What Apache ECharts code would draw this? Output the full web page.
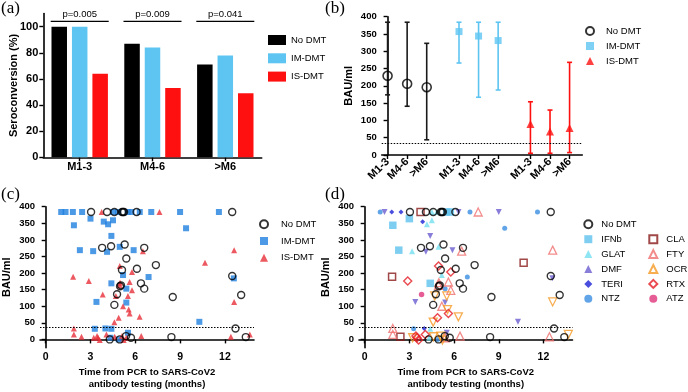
<!DOCTYPE html>
<html>
<head>
<meta charset="utf-8">
<script src="https://cdn.jsdelivr.net/npm/echarts@6/dist/echarts.min.js"></script>
<style>
html, body { margin: 0; padding: 0; background: #fff; }
#chart { width: 688px; height: 392px; }
</style>
</head>
<body>
<div id="chart"></div>
<script>
// (a) seroconversion per time window
var windows = ['M1-3', 'M4-6', '>M6'];
var seroNo = [100, 87, 71];
var seroIM = [100, 84, 78];
var seroIS = [64, 53, 49];
var pValues = ['p=0.005', 'p=0.009', 'p=0.041'];
var seroTicks = [0, 20, 40, 60, 80, 100];

// (b) median BAU/ml with range
var noMed = [229, 206, 196];
var noLo = [174, 141, 44];
var noHi = [384, 384, 323];
var imMed = [357, 344, 331];
var imLo = [266, 167, 188];
var imHi = [384, 384, 384];
var isMed = [90, 68, 78];
var isLo = [5, 5, 7];
var isHi = [154, 130, 268];
var bauTicks = [0, 50, 100, 150, 200, 250, 300, 350, 400];
var threshold = 35.2;

// (c) BAU/ml against months since PCR
var monthTicks = [0, 3, 6, 9, 12];
var noDmt = [
    [3.04,384],[4.11,384],[4.6,384],[5.11,384],[5.18,384],[5.25,384],[6.09,384],[12.49,384],
    [3.78,276],[4.38,281],[5.29,286],[6.6,276],[5.4,244],[7.38,224],[5.11,209],[6.11,213],
    [5.04,163],[4.98,160],[6.38,169],[6.6,153],[4.78,136],[4.6,104],[8.51,128],[12.49,191],
    [13.09,134],[12.71,33],[4.29,0],[4.96,0],[5.38,10],[5.71,5],[8.42,7],[13.4,7]
];
var imDmt = [
    [1.04,384],[1.33,384],[1.82,384],[2.44,384],[4.51,384],[4.85,384],[5.5,384],[5.75,384],
    [6.3,384],[7.07,384],[9.0,384],[11.6,384],
    [1.89,344],[3.0,364],[3.89,355],[4.18,347],[4.51,359],[4.4,312],
    [2.29,269],[3.18,266],[4.11,264],[4.96,279],[5.89,269],[9.4,335],
    [6.89,188],[5.18,194],[4.4,169],[5.4,153],[3.4,113],[5.4,111],
    [3.29,32],[4.0,33],[4.4,32],[10.29,53],[12.6,184],[5.51,20],[4.89,0],[4.33,5]
];
var isDmt = [
    [7.62,384],[3.75,384],[1.84,189],[2.89,176],[3.82,135],[4.96,221],[4.98,171],[4.96,163],
    [5.51,131],[4.7,131],[5.62,173],[5.78,203],[5.78,148],[5.18,100],[5.56,90],[5.62,78],[4.89,65],
    [4.6,52],[6.29,68],[6.51,266],[10.67,231],[12.62,269],[12.62,113],
    [1.89,33],[1.89,15],[2.4,8],[3.22,5],[3.44,10],[3.51,5],[3.62,-2],[4.07,15],[4.62,8],
    [5.11,10],[5.22,-2],[5.4,5],[6.4,10],[12.4,8],[13.67,15]
];

// (d) same patients split by drug
var ifnb = [[5.5,384],[5.75,384],[1.89,344],[3.0,364],[2.29,269],[4.4,169]];
var glat = [[4.51,384],[4.85,384],[4.18,347],[4.51,359],[3.18,266],[4.96,279],[5.18,194],[4.4,32],[4.33,5]];
var dmf = [[1.33,384],[6.3,384],[9.0,384],[4.4,312],[4.11,264],[5.89,269],[3.4,113],[5.4,111],[10.29,53],[12.6,184],[5.51,20]];
var teri = [[1.82,384],[2.44,384],[3.89,355],[4.0,33]];
var ntz = [[1.04,384],[7.07,384],[11.6,384],[9.4,335],[6.89,188],[5.4,153],[3.29,32],[4.89,0]];
var cla = [[3.75,384],[1.84,189],[10.67,231],[2.4,8]];
var fty = [[7.62,384],[4.98,171],[4.96,163],[5.62,173],[5.78,148],[5.18,100],[6.51,266],[12.62,269],[1.89,33],[1.89,15],[5.4,5],[6.4,10],[12.4,8]];
var ocr = [[5.51,131],[4.7,131],[5.56,90],[4.6,52],[6.29,68],[12.62,113],[3.22,5],[4.62,8],[5.11,10],[5.22,-2],[13.67,15]];
var rtx = [[2.89,176],[4.96,221],[5.78,203],[5.62,78],[4.89,65],[3.44,10],[3.51,5],[3.62,-2],[4.07,15]];
var atz = [[3.82,135]];

var FONT = 'Liberation Sans';
var groupStride = 3.65;
var bPos = [];
var bLabels = [];
for (var g = 0; g < 3; g++) {
    for (var k = 0; k < 3; k++) {
        bPos.push(g * groupStride + k);
        bLabels.push(windows[k]);
    }
}

function axisLine() {
    return { show: true, lineStyle: { color: '#000', width: 1.6 } };
}
function ticks(vals) {
    var t = { show: true, inside: false, length: 4, lineStyle: { color: '#000', width: 1.4 } };
    if (vals) t.customValues = vals;
    return t;
}
function labels(size, vals, extra) {
    var l = { show: true, color: '#000', fontFamily: FONT, fontWeight: 'bold', fontSize: size, margin: 5 };
    if (vals) l.customValues = vals;
    for (var key in extra) l[key] = extra[key];
    return l;
}
function yName(text, gap) {
    return {
        name: text, nameLocation: 'middle', nameGap: gap, nameRotate: 90, nameMoveOverlap: false,
        nameTextStyle: { color: '#000', fontFamily: FONT, fontWeight: 'bold', fontSize: 11 }
    };
}
function bauY(gridIndex, nameGap) {
    var ax = {
        type: 'value', gridIndex: gridIndex, min: -25, max: 400,
        axisLine: axisLine(), axisTick: ticks(bauTicks), axisLabel: labels(9.5, bauTicks),
        splitLine: { show: false }
    };
    var n = yName('BAU/ml', nameGap);
    for (var key in n) ax[key] = n[key];
    return ax;
}
function monthX(gridIndex) {
    return {
        type: 'value', gridIndex: gridIndex, min: -0.38, max: 13.95,
        axisLine: axisLine(), axisTick: ticks(monthTicks), axisLabel: labels(10.5, monthTicks, { margin: 4 }),
        splitLine: { show: false },
        name: 'Time from PCR to SARS-CoV2\nantibody testing (months)', nameLocation: 'middle', nameGap: 19,
        nameMoveOverlap: false,
        nameTextStyle: { color: '#000', fontFamily: FONT, fontWeight: 'bold', fontSize: 9.5, lineHeight: 11.5 }
    };
}
function dotted() {
    return {
        silent: true, symbol: ['none', 'none'], label: { show: false },
        lineStyle: { color: '#000', type: [1.5, 1.5], width: 1 },
        data: [{ yAxis: threshold }]
    };
}
function hollow(color, w) {
    return { color: 'rgba(0,0,0,0)', borderColor: color, borderWidth: w || 1.4 };
}
function scat(name, data, xi, symbol, size, style, rot) {
    return {
        name: name, type: 'scatter', xAxisIndex: xi, yAxisIndex: xi, data: data,
        symbol: symbol, symbolSize: size, symbolRotate: rot || 0, itemStyle: style,
        emphasis: { disabled: true }
    };
}
function errorBars(lo, hi, offset, color) {
    return {
        type: 'custom', xAxisIndex: 1, yAxisIndex: 1, z: 1,
        data: lo.map(function (v, i) { return [bPos[offset + i], v, hi[i]]; }),
        renderItem: function (params, api) {
            var a = api.coord([api.value(0), api.value(1)]);
            var b = api.coord([api.value(0), api.value(2)]);
            var st = { stroke: color, lineWidth: 1.6 };
            return { type: 'group', children: [
                { type: 'line', shape: { x1: a[0], y1: a[1], x2: b[0], y2: b[1] }, style: st },
                { type: 'line', shape: { x1: a[0] - 2.5, y1: a[1], x2: a[0] + 2.5, y2: a[1] }, style: st },
                { type: 'line', shape: { x1: b[0] - 2.5, y1: b[1], x2: b[0] + 2.5, y2: b[1] }, style: st }
            ] };
        }
    };
}
function legend(names, left, top, w, h, gap, pad) {
    return {
        data: names, orient: 'vertical', left: left, top: top, itemWidth: w, itemHeight: h, itemGap: gap,
        selectedMode: false, padding: 0, symbolKeepAspect: true,
        textStyle: { color: '#000', fontFamily: FONT, fontSize: 9.5, lineHeight: 10, padding: [0, 0, 0, pad || 0] }
    };
}
function withPos(vals, offset) {
    return vals.map(function (v, i) { return [bPos[offset + i], v]; });
}

var C_IM_LIGHT = '#5ec5f2';
var C_RED = '#ff1010';
var C_IM_C = '#1f80e0';
var C_IS_C = '#e8303a';

var chart = echarts.init(document.getElementById('chart'));
var option = {
    animation: false,
    backgroundColor: '#fff',
    grid: [
        { left: 43.3, top: 13.6, width: 218.4, height: 143.7 },
        { left: 381.7, top: 16.7, width: 200.6, height: 138.3 },
        { left: 39.3, top: 206.7, width: 214.7, height: 141 },
        { left: 359, top: 206.7, width: 213.5, height: 141 }
    ],
    xAxis: [
        {
            type: 'category', gridIndex: 0, data: windows,
            axisLine: axisLine(), axisTick: { show: true, alignWithLabel: true, length: 4, lineStyle: { color: '#000', width: 1.4 } },
            axisLabel: labels(11, null, { margin: 4 })
        },
        {
            type: 'value', gridIndex: 1, min: -0.3, max: 9.95,
            axisLine: axisLine(), axisTick: ticks(bPos),
            axisLabel: labels(11, bPos, {
                rotate: 45, margin: 5, overflow: 'none', hideOverlap: false,
                formatter: function (v) {
                    for (var i = 0; i < bPos.length; i++) if (Math.abs(bPos[i] - v) < 0.01) return bLabels[i];
                    return '';
                }
            }),
            splitLine: { show: false }
        },
        monthX(2),
        monthX(3)
    ],
    yAxis: [
        (function () {
            var ax = {
                type: 'value', gridIndex: 0, min: 0, max: 110,
                axisLine: axisLine(), axisTick: ticks(seroTicks), axisLabel: labels(11, seroTicks),
                splitLine: { show: false }
            };
            var n = yName('Seroconversion (%)', 24);
            for (var key in n) ax[key] = n[key];
            return ax;
        })(),
        (function () {
            var ax = {
                type: 'value', gridIndex: 1, min: 0, max: 400,
                axisLine: axisLine(), axisTick: ticks(bauTicks), axisLabel: labels(9.5, bauTicks),
                splitLine: { show: false }
            };
            var n = yName('BAU/ml', 27);
            for (var key in n) ax[key] = n[key];
            return ax;
        })(),
        bauY(2, 28),
        bauY(3, 28)
    ],
    legend: [
        legend([{ name: 'No DMT', icon: 'rect' }, { name: 'IM-DMT', icon: 'rect' }, { name: 'IS-DMT', icon: 'rect' }], 268, 35, 18, 10, 8.3, 0),
        legend(['No DMT ', 'IM-DMT ', 'IS-DMT '], 585, 26, 8, 8, 5, 7),
        legend(['No DMT  ', 'IM-DMT  ', 'IS-DMT  '], 259, 219.3, 8, 8, 6.7, 8),
        legend(['No DMT   ', 'IFNb', 'GLAT', 'DMF', 'TERI', 'NTZ'], 583.3, 219.3, 8, 8, 4.9, 4),
        legend(['CLA', 'FTY', 'OCR', 'RTX', 'ATZ'], 648.3, 234.2, 8, 8, 4.9, 4)
    ],
    series: [
        { name: 'No DMT', type: 'bar', xAxisIndex: 0, yAxisIndex: 0, data: seroNo, barWidth: 15.5, barGap: '32%', itemStyle: { color: '#000' } },
        { name: 'IM-DMT', type: 'bar', xAxisIndex: 0, yAxisIndex: 0, data: seroIM, barWidth: 15.5, barGap: '32%', itemStyle: { color: C_IM_LIGHT } },
        { name: 'IS-DMT', type: 'bar', xAxisIndex: 0, yAxisIndex: 0, data: seroIS, barWidth: 15.5, barGap: '32%', itemStyle: { color: C_RED } },

        errorBars(noLo, noHi, 0, '#1a1a1a'),
        errorBars(imLo, imHi, 3, C_IM_LIGHT),
        errorBars(isLo, isHi, 6, C_RED),
        (function () {
            var s = scat('No DMT ', withPos(noMed, 0), 1, 'circle', 9, hollow('#000', 1.6));
            s.markLine = dotted();
            return s;
        })(),
        scat('IM-DMT ', withPos(imMed, 3), 1, 'rect', 7, { color: C_IM_LIGHT }),
        scat('IS-DMT ', withPos(isMed, 6), 1, 'triangle', 8, { color: C_RED }),

        (function () {
            var s = scat('IM-DMT  ', imDmt, 2, 'rect', 6, { color: C_IM_C });
            s.markLine = dotted();
            return s;
        })(),
        scat('IS-DMT  ', isDmt, 2, 'triangle', 6, { color: C_IS_C }),
        scat('No DMT  ', noDmt, 2, 'circle', 7, hollow('#000', 1.4)),

        (function () {
            var s = scat('IFNb', ifnb, 3, 'rect', 7.5, { color: '#5ec2ee' });
            s.markLine = dotted();
            return s;
        })(),
        scat('GLAT', glat, 3, 'triangle', 6, { color: '#74def0' }),
        scat('DMF', dmf, 3, 'triangle', 6, { color: '#6a5cd0' }, 180),
        scat('TERI', teri, 3, 'diamond', 5, { color: '#1c22d6' }),
        scat('NTZ', ntz, 3, 'circle', 5, { color: '#3a8ee2' }),
        scat('CLA', cla, 3, 'rect', 7, hollow('#8a1a1a', 1.5)),
        scat('FTY', fty, 3, 'triangle', 8, hollow('#f07070', 1.3)),
        scat('OCR', ocr, 3, 'triangle', 8, hollow('#f59a25', 1.3), 180),
        scat('RTX', rtx, 3, 'diamond', 8, hollow('#e51c23', 1.4)),
        scat('ATZ', atz, 3, 'circle', 5.5, { color: '#e0357c' }),
        scat('No DMT   ', noDmt, 3, 'circle', 7, hollow('#000', 1.4))
    ]
};
chart.setOption(option);

// panel letters and p-value brackets
var gfx = [];
var letters = [['(a)', 1, 0], ['(b)', 325, 0], ['(c)', 1, 186], ['(d)', 325, 186]];
letters.forEach(function (l) {
    gfx.push({ type: 'text', left: l[1], top: l[2], style: { text: l[0], fontFamily: 'Liberation Serif', fontSize: 17, fill: '#000' } });
});
windows.forEach(function (w, i) {
    var cx = chart.convertToPixel({ xAxisIndex: 0 }, w);
    var y = chart.convertToPixel({ yAxisIndex: 0 }, 104);
    gfx.push({ type: 'line', shape: { x1: cx - 29, y1: y, x2: cx + 29, y2: y }, style: { stroke: '#000', lineWidth: 1.2 } });
    gfx.push({ type: 'text', x: cx, y: y - 2, style: { text: pValues[i], align: 'center', verticalAlign: 'bottom', fontFamily: FONT, fontSize: 9.5, fill: '#000' } });
});
chart.setOption({ graphic: gfx });
</script>
</body>
</html>
